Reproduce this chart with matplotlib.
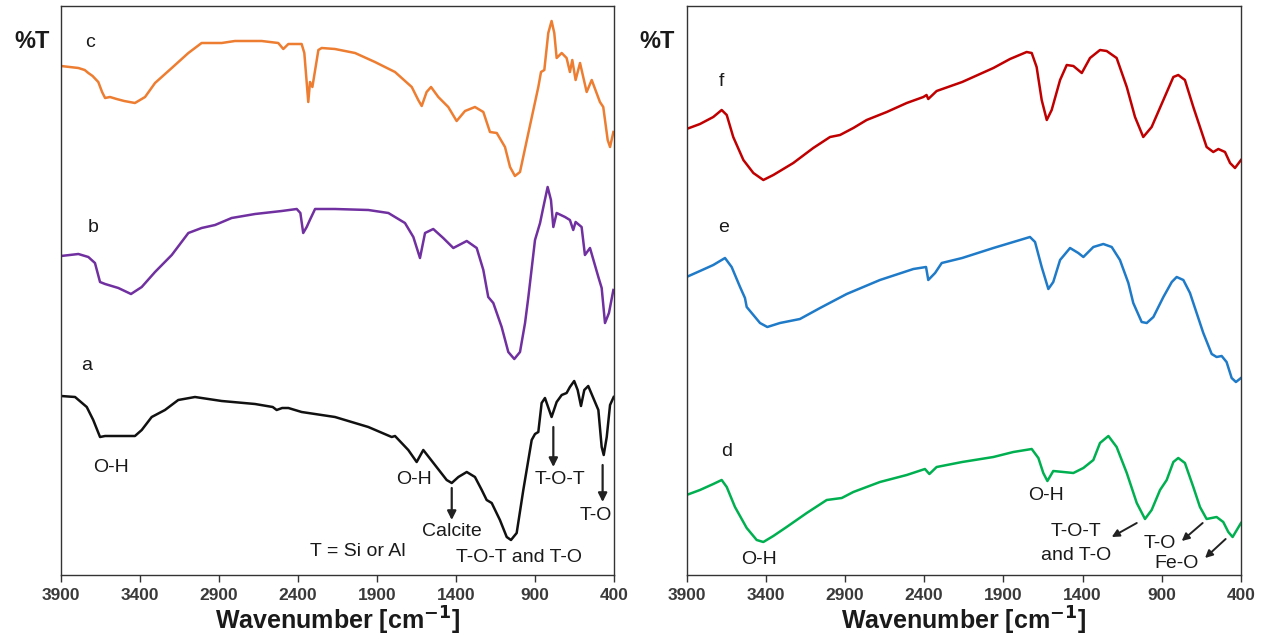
import matplotlib
matplotlib.use("Agg")
import matplotlib.pyplot as plt

plt.rcParams['font.family'] = ['Liberation Sans', 'DejaVu Sans']

# ---------------- data (wavenumber, %T in arbitrary offset units) ----------------
c_wn = [3900, 3790, 3750, 3727, 3700, 3664, 3640, 3621, 3590, 3548, 3500, 3432, 3368, 3305, 3199, 3094,
        3010, 2883, 2799, 2630, 2525, 2493, 2461, 2377, 2360, 2335, 2324, 2309, 2271, 2250, 2166, 2039,
        1913, 1786, 1680, 1639, 1617, 1586, 1558, 1512, 1449, 1396, 1343, 1280, 1227, 1185, 1142, 1090,
        1058, 1027, 995, 942, 879, 862, 841, 816, 795, 778, 763, 731, 700, 679, 664, 643, 615, 573, 541,
        489, 468, 440, 425, 404]
c_T = [509, 507, 505, 502, 499, 493, 483, 477, 478, 476, 474, 472, 478, 492, 507, 522,
       532, 532, 534, 534, 532, 526, 531, 531, 522, 473, 493, 488, 525, 527, 526, 522,
       513, 503, 488, 475, 469, 483, 488, 478, 468, 454, 464, 468, 463, 443, 442, 428,
       408, 399, 403, 442, 488, 503, 505, 542, 554, 542, 517, 522, 517, 503, 515, 495, 512, 483, 495,
       473, 468, 435, 428, 443]

b_wn = [3900, 3790, 3727, 3685, 3653, 3621, 3537, 3457, 3389, 3305, 3199, 3094, 3010, 2925, 2820, 2672,
        2503, 2408, 2385, 2367, 2345, 2325, 2292, 2166, 1955, 1828, 1723, 1670, 1628, 1596, 1544, 1481,
        1417, 1332, 1269, 1227, 1196, 1164, 1111, 1069, 1031, 995, 963, 942, 900, 868, 847, 820, 799,
        784, 763, 710, 679, 658, 643, 605, 584, 552, 499, 478, 457, 432, 404]
b_T = [319, 321, 318, 312, 293, 291, 287, 281, 288, 303, 320, 342, 347, 350, 357, 361,
       364, 366, 362, 342, 348, 355, 366, 366, 365, 362, 352, 338, 317, 342, 346, 337,
       327, 334, 327, 305, 278, 272, 248, 223, 216, 223, 252, 278, 335, 352, 368, 388, 375,
       348, 362, 358, 355, 345, 353, 348, 320, 327, 298, 287, 252, 262, 285]

a_wn = [3900, 3811, 3737, 3696, 3653, 3621, 3516, 3432, 3389, 3326, 3242, 3158, 3052, 2883, 2672, 2560,
        2535, 2500, 2461, 2377, 2166, 1955, 1807, 1786, 1702, 1649, 1607, 1533, 1459, 1427, 1385, 1332,
        1280, 1237, 1206, 1174, 1122, 1079, 1052, 1016, 974, 921, 900, 879, 858, 837, 795, 763, 731,
        700, 679, 652, 630, 609, 588, 563, 531, 499, 478, 465, 446, 425, 402]
a_T = [179, 178, 168, 155, 138, 139, 139, 139, 145, 158, 165, 175, 178, 174, 171, 168,
       165, 167, 167, 163, 158, 148, 138, 139, 125, 113, 125, 110, 95, 92, 98, 103,
       98, 85, 75, 72, 55, 38, 35, 42, 85, 135, 141, 143, 172, 177, 158, 173, 180,
       182, 188, 194, 185, 169, 185, 189, 177, 165, 128, 120, 138, 170, 178]

f_wn = [3900, 3815, 3731, 3678, 3646, 3605, 3541, 3478, 3415, 3352, 3226, 3100, 2994, 2931, 2847, 2763,
        2636, 2510, 2405, 2385, 2374, 2321, 2160, 1963, 1858, 1753, 1721, 1690, 1658, 1626, 1595, 1542,
        1500, 1458, 1405, 1353, 1290, 1248, 1185, 1121, 1069, 1017, 964, 890, 827, 796, 754, 701, 617,
        575, 543, 501, 469, 438, 400]
f_T = [446, 451, 458, 465, 460, 438, 415, 402, 395, 400, 412, 427, 438, 440, 447, 455,
       463, 472, 478, 480, 476, 484, 493, 507, 516, 523, 522, 508, 475, 455, 465, 495,
       510, 509, 502, 517, 525, 524, 517, 488, 458, 438, 448, 475, 498, 500, 495, 468, 428,
       423, 426, 423, 412, 407, 415]

e_wn = [3900, 3815, 3731, 3657, 3615, 3562, 3531, 3520, 3436, 3390, 3310, 3184, 3057, 2889, 2679, 2468,
        2388, 2374, 2331, 2289, 2160, 1963, 1837, 1732, 1700, 1658, 1616, 1585, 1542, 1479, 1427, 1395,
        1332, 1269, 1216, 1164, 1111, 1080, 1027, 995, 953, 890, 837, 806, 764, 722, 701, 638, 585,
        554, 522, 491, 459, 432, 400]
e_T = [298, 304, 310, 317, 308, 288, 277, 268, 252, 248, 252, 256, 267, 281, 295, 306,
       308, 295, 302, 312, 317, 327, 333, 338, 333, 308, 286, 293, 315, 327, 322, 318,
       328, 331, 328, 315, 292, 272, 253, 252, 258, 278, 293, 298, 295, 282, 272, 242, 221,
       218, 219, 213, 197, 193, 197]

d_wn = [3900, 3815, 3731, 3678, 3646, 3594, 3520, 3457, 3415, 3352, 3268, 3141, 3015, 2920, 2847, 2679,
        2510, 2395, 2367, 2321, 2160, 1963, 1837, 1721, 1679, 1648, 1622, 1585, 1521, 1458, 1395, 1332,
        1290, 1237, 1185, 1121, 1058, 1006, 964, 911, 869, 827, 796, 754, 701, 659, 617, 554, 512,
        480, 453, 400]
d_T = [80, 85, 91, 95, 88, 68, 47, 35, 33, 39, 48, 62, 75, 77, 83, 93,
       100, 106, 101, 108, 113, 118, 123, 126, 117, 102, 94, 104, 103, 102, 107, 115,
       132, 139, 128, 102, 72, 56, 65, 85, 95, 113, 117, 112, 88, 68, 56, 58, 53,
       43, 38, 52]

xticks = [3900, 3400, 2900, 2400, 1900, 1400, 900, 400]
xlabel = "Wavenumber [cm$^{\\mathbf{-1}}$]"

# ---------------- figure ----------------
W, H = 1270, 639
fig = plt.figure(figsize=(W / 100, H / 100), dpi=100)
fig.patch.set_facecolor('white')

top_px, bot_px = 6, 575
axL = fig.add_axes([61 / W, (H - bot_px) / H, 553 / W, (bot_px - top_px) / H])
axR = fig.add_axes([686.5 / W, (H - bot_px) / H, 554.5 / W, (bot_px - top_px) / H])

lw = 1.8
axL.plot(c_wn, c_T, color='#ED7D31', lw=lw, solid_joinstyle='round')
axL.plot(b_wn, b_T, color='#7030A0', lw=lw, solid_joinstyle='round')
axL.plot(a_wn, a_T, color='#111111', lw=lw, solid_joinstyle='round')
axR.plot(f_wn, f_T, color='#C00000', lw=lw, solid_joinstyle='round')
axR.plot(e_wn, e_T, color='#1F7AC8', lw=lw, solid_joinstyle='round')
axR.plot(d_wn, d_T, color='#00B050', lw=lw, solid_joinstyle='round')

for ax in (axL, axR):
    ax.set_xlim(3900, 400)
    ax.set_ylim(0, 569)
    ax.set_xticks(xticks)
    ax.set_xticklabels([str(t) for t in xticks], fontweight='bold', fontsize=12.5, color='#3a3a3a')
    ax.set_yticks([])
    ax.tick_params(axis='x', direction='out', length=5, width=1, color='#333333', pad=4)
    for s in ax.spines.values():
        s.set_color('#333333')
        s.set_linewidth(1.0)
    ax.set_xlabel(xlabel, fontweight='bold', fontsize=18, color='#1a1a1a', labelpad=2)

fig.text(32 / W, 1 - 42 / H, "%T", fontsize=17, fontweight='bold', ha='center', va='center', color='#1a1a1a')
fig.text(657 / W, 1 - 42 / H, "%T", fontsize=17, fontweight='bold', ha='center', va='center', color='#1a1a1a')

fs = 14
tk = dict(ha='center', va='center', color='#1a1a1a')
# left panel labels
axL.text(3716, 533, "c", fontsize=fs, **tk)
axL.text(3697, 348, "b", fontsize=fs, **tk)
axL.text(3735, 209, "a", fontsize=fs, **tk)
axL.text(3582, 107, "O-H", fontsize=fs, **tk)
axL.text(1666, 95, "O-H", fontsize=fs, **tk)
axL.text(1425, 43, "Calcite", fontsize=fs, **tk)
axL.text(2020, 23, "T = Si or Al", fontsize=fs, **tk)
axL.text(1001, 18, "T-O-T and T-O", fontsize=fs, **tk)
axL.text(742, 96, "T-O-T", fontsize=fs, **tk)
axL.text(517, 60, "T-O", fontsize=fs, **tk)
ap = dict(arrowstyle='-|>', lw=1.6, color='#222222', mutation_scale=13, shrinkA=0, shrinkB=0)
axL.annotate("", xy=(1427, 55), xytext=(1427, 87), arrowprops=ap)
axL.annotate("", xy=(784, 108), xytext=(784, 148), arrowprops=ap)
axL.annotate("", xy=(472, 73), xytext=(472, 110), arrowprops=ap)

# right panel labels
axR.text(3678, 493, "f", fontsize=fs, **tk)
axR.text(3668, 348, "e", fontsize=fs, **tk)
axR.text(3646, 123, "d", fontsize=fs, **tk)
axR.text(3442, 16, "O-H", fontsize=fs, **tk)
axR.text(1633, 79, "O-H", fontsize=fs, **tk)
axR.text(1440, 43, "T-O-T", fontsize=fs, **tk)
axR.text(1443, 19, "and T-O", fontsize=fs, **tk)
axR.text(911, 32, "T-O", fontsize=fs, **tk)
axR.text(804, 12, "Fe-O", fontsize=fs, **tk)
ap2 = dict(arrowstyle='-|>', lw=1.4, color='#222222', mutation_scale=11, shrinkA=0, shrinkB=0)
axR.annotate("", xy=(1216, 38), xytext=(1058, 52), arrowprops=ap2)
axR.annotate("", xy=(774, 34), xytext=(642, 52), arrowprops=ap2)
axR.annotate("", xy=(627, 17), xytext=(497, 36), arrowprops=ap2)

fig.savefig("out.png", dpi=100, facecolor='white')
